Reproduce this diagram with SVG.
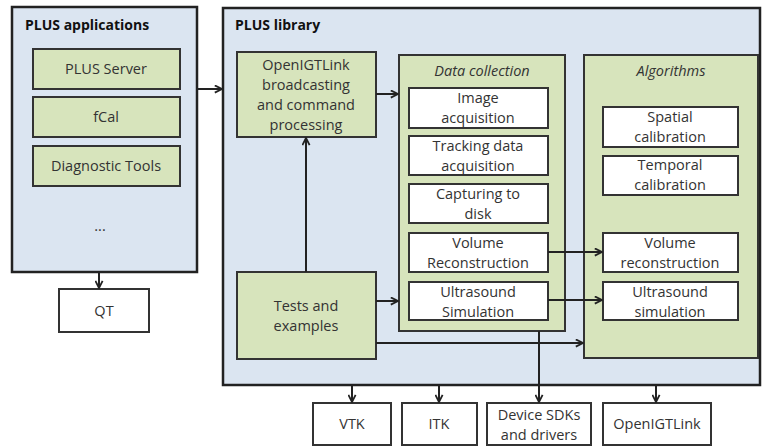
<svg xmlns="http://www.w3.org/2000/svg" width="765" height="447" viewBox="0 0 765 447">
<defs>
<marker id="arr" viewBox="0 0 10 10" refX="9" refY="5" markerWidth="9" markerHeight="9" markerUnits="userSpaceOnUse" orient="auto">
<path d="M1,1 L9,5 L1,9" fill="none" stroke="#222" stroke-width="2"/>
</marker>
<style>
.outer{fill:#dbe5f1;stroke:#222;stroke-width:2.5}
.green{fill:#d7e4bc;stroke:#333;stroke-width:2}
.white{fill:#fff;stroke:#333;stroke-width:2}
text{font-family:"Open Sans","Liberation Sans",sans-serif;font-size:14.5px;fill:#333;text-anchor:middle}
.title{font-weight:bold;text-anchor:start;fill:#111;font-size:14px}
.it{font-style:italic}
.conn path{fill:none;stroke:#222;stroke-width:2;marker-end:url(#arr)}
</style>
</defs>
<rect width="765" height="447" fill="#fff"/>
<g id="plus-applications">
<rect class="outer" x="12" y="7" width="185" height="265"/>
<text class="title" x="25" y="30">PLUS applications</text>
<text x="100" y="231">...</text>
</g>
<g id="plus-server"><rect class="green" x="33" y="49" width="147" height="40"/><text x="106" y="74">PLUS Server</text></g>
<g id="fcal"><rect class="green" x="33" y="97" width="147" height="40"/><text x="106" y="122">fCal</text></g>
<g id="diagnostic-tools"><rect class="green" x="33" y="146" width="147" height="40"/><text x="106" y="171">Diagnostic Tools</text></g>
<g id="qt"><rect class="white" x="59" y="289" width="90" height="43"/><text x="104" y="316">QT</text></g>
<g id="plus-library">
<rect class="outer" x="223" y="8" width="537" height="377"/>
<text class="title" x="235" y="30">PLUS library</text>
</g>
<g id="openigtlink-broadcasting"><rect class="green" x="237" y="52" width="139" height="85"/>
<text x="306" y="70">OpenIGTLink</text><text x="306" y="90">broadcasting</text><text x="306" y="110">and command</text><text x="306" y="130">processing</text></g>
<g id="tests-and-examples"><rect class="green" x="237" y="272" width="139" height="87"/>
<text x="306" y="311">Tests and</text><text x="306" y="331">examples</text></g>
<g id="data-collection"><rect class="green" x="399" y="55" width="166" height="276"/>
<text class="it" x="482" y="76">Data collection</text></g>
<g id="image-acquisition"><rect class="white" x="409" y="88" width="139" height="40"/><text x="478" y="103">Image</text><text x="478" y="123">acquisition</text></g>
<g id="tracking-data-acquisition"><rect class="white" x="409" y="136" width="139" height="39"/><text x="478" y="151">Tracking data</text><text x="478" y="171">acquisition</text></g>
<g id="capturing-to-disk"><rect class="white" x="409" y="184" width="139" height="39"/><text x="478" y="199">Capturing to</text><text x="478" y="219">disk</text></g>
<g id="volume-reconstruction-dc"><rect class="white" x="409" y="233" width="139" height="39"/><text x="478" y="248">Volume</text><text x="478" y="268">Reconstruction</text></g>
<g id="ultrasound-simulation-dc"><rect class="white" x="409" y="282" width="139" height="38"/><text x="478" y="297">Ultrasound</text><text x="478" y="317">Simulation</text></g>
<g id="algorithms"><rect class="green" x="584" y="55" width="174" height="303"/>
<text class="it" x="671" y="76">Algorithms</text></g>
<g id="spatial-calibration"><rect class="white" x="603" y="107" width="135" height="40"/><text x="670" y="122">Spatial</text><text x="670" y="142">calibration</text></g>
<g id="temporal-calibration"><rect class="white" x="603" y="156" width="135" height="39"/><text x="670" y="170">Temporal</text><text x="670" y="190">calibration</text></g>
<g id="volume-reconstruction-alg"><rect class="white" x="603" y="233" width="135" height="39"/><text x="670" y="248">Volume</text><text x="670" y="268">reconstruction</text></g>
<g id="ultrasound-simulation-alg"><rect class="white" x="603" y="282" width="135" height="38"/><text x="670" y="297">Ultrasound</text><text x="670" y="317">simulation</text></g>
<g id="vtk"><rect class="white" x="313" y="403" width="78" height="42"/><text x="352" y="429">VTK</text></g>
<g id="itk"><rect class="white" x="402" y="403" width="75" height="42"/><text x="439" y="429">ITK</text></g>
<g id="device-sdks"><rect class="white" x="487" y="403" width="104" height="42"/><text x="539" y="420">Device SDKs</text><text x="539" y="440">and drivers</text></g>
<g id="openigtlink"><rect class="white" x="603" y="403" width="108" height="42"/><text x="657" y="429">OpenIGTLink</text></g>
<g id="connectors" class="conn">
<path d="M197,89 H222"/>
<path d="M376,94 H398"/>
<path d="M306,272 V138"/>
<path d="M376,301 H398"/>
<path d="M376,343 H583"/>
<path d="M548,252 H602"/>
<path d="M548,300 H602"/>
<path d="M539,331 V402"/>
<path d="M99,272 V288"/>
<path d="M352,385 V402"/>
<path d="M439,385 V402"/>
<path d="M656,385 V402"/>
</g>
</svg>
